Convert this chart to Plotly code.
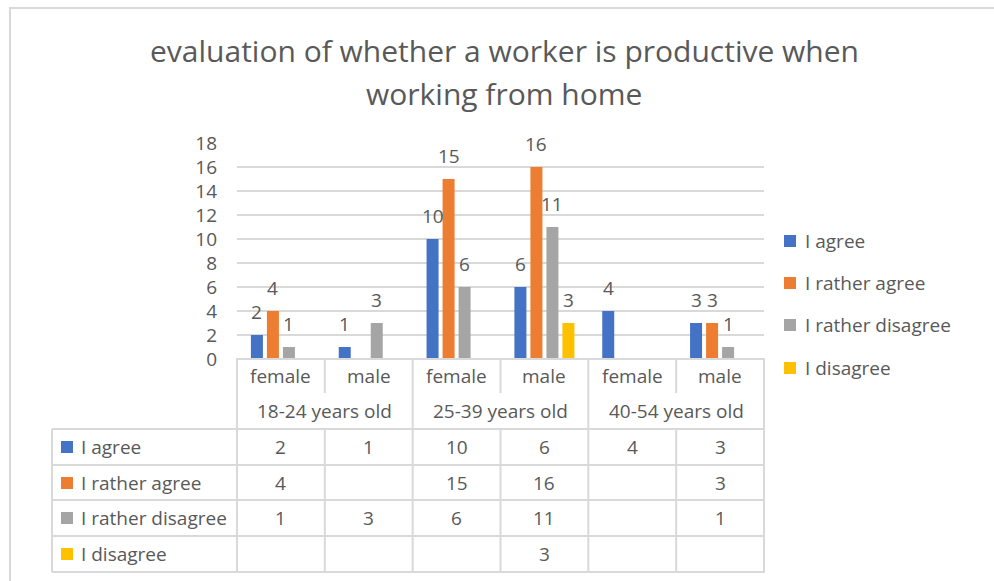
import plotly.graph_objects as go

# ---------------- data ----------------
ages = ["18-24 years old", "25-39 years old", "40-54 years old"]
genders = ["female", "male"]
series_names = ["I agree", "I rather agree", "I rather disagree", "I disagree"]
i_agree = [2, 1, 10, 6, 4, 3]
i_rather_agree = [4, None, 15, 16, None, 3]
i_rather_disagree = [1, 3, 6, 11, None, 1]
i_disagree = [None, None, None, 3, None, None]
y_ticks = [0, 2, 4, 6, 8, 10, 12, 14, 16, 18]
title_lines = ["evaluation of whether a worker is productive when", "working from home"]

# ---------------- style ----------------
colors = ["#4472C4", "#ED7D31", "#A5A5A5", "#FFC000"]
TXT = "#595959"
LINE = "#D9D9D9"
FONT = "Open Sans"
FS = 19
W, H = 994, 581
L, R, T, B = 237, 764, 143, 359  # plot area in pixels
BARGAP, GROUPGAP = 0.271, 0.25

def px(X):
    return (X - L) / (R - L)

def py(Y):
    return (B - Y) / (B - T)

series = [i_agree, i_rather_agree, i_rather_disagree, i_disagree]
keys = [f"{g} {a}" for a in ages for g in genders]
gender_of_key = [g for a in ages for g in genders]
n_cat = len(keys)
n_ser = len(series)

fig = go.Figure()
for name, vals, col in zip(series_names, series, colors):
    fig.add_trace(go.Bar(x=keys, y=vals, name=name, marker_color=col,
                         marker_line_width=0, showlegend=False))

annotations = []
shapes = []

def txt(**kw):
    kw.setdefault("showarrow", False)
    kw.setdefault("xanchor", "center")
    kw.setdefault("yanchor", "middle")
    kw.setdefault("font", dict(family=FONT, size=FS, color=TXT))
    annotations.append(kw)

# data labels above bars
slot_px = (R - L) / n_cat * (1 - BARGAP) / n_ser
for j, vals in enumerate(series):
    for i, v in enumerate(vals):
        if v is None:
            continue
        txt(x=keys[i], y=v, xref="x", yref="y", text=str(v),
            xshift=(j - (n_ser - 1) / 2) * slot_px, yanchor="bottom", yshift=8)

# title
for Y, line in zip([50, 93], title_lines):
    txt(x=px(504), y=py(Y), xref="paper", yref="paper", text=line,
        font=dict(family=FONT, size=30, color=TXT))

# table: gender row
for i, k in enumerate(keys):
    txt(x=k, y=py(376), xref="x", yref="paper", text=gender_of_key[i])
# table: age row
for a_i, a in enumerate(ages):
    txt(x=(2 * a_i + 1) / n_cat, y=py(411), xref="paper", yref="paper", text=a)
# table: data rows
row_y = [447, 483, 518, 554]
for j, (name, vals, col) in enumerate(zip(series_names, series, colors)):
    Y = row_y[j]
    shapes.append(dict(type="rect", xref="paper", yref="paper",
                       x0=px(61), x1=px(73), y0=py(Y + 6), y1=py(Y - 6),
                       fillcolor=col, line_width=0))
    txt(x=px(79), y=py(Y), xref="paper", yref="paper", text=name, xanchor="left")
    for i, v in enumerate(vals):
        if v is None:
            continue
        txt(x=keys[i], y=py(Y), xref="x", yref="paper", text=str(v))

# legend (right)
leg_y = [241, 283, 325, 368]
for Y, name, col in zip(leg_y, series_names, colors):
    shapes.append(dict(type="rect", xref="paper", yref="paper",
                       x0=px(784), x1=px(796), y0=py(Y + 6), y1=py(Y - 6),
                       fillcolor=col, line_width=0))
    txt(x=px(803), y=py(Y), xref="paper", yref="paper", text=name, xanchor="left")

# table lines
def hline(Y, X0, X1):
    shapes.append(dict(type="line", xref="paper", yref="paper", x0=px(X0), x1=px(X1),
                       y0=py(Y), y1=py(Y), line=dict(color=LINE, width=2)))

def vline(X, Y0, Y1):
    shapes.append(dict(type="line", xref="paper", yref="paper", x0=px(X), x1=px(X),
                       y0=py(Y0), y1=py(Y1), line=dict(color=LINE, width=2)))

hline(359, 236, 765)
for Y in [429, 465, 500, 536, 572]:
    hline(Y, 52, 765)
vline(52, 429, 572)
for k in range(0, n_cat + 1, 2):
    X = L + (R - L) * k / n_cat
    vline(X, 359, 572)
for k in range(1, n_cat, 2):
    X = L + (R - L) * k / n_cat
    vline(X, 359, 393)
    vline(X, 429, 572)

# chart border
shapes.append(dict(type="rect", xref="paper", yref="paper", x0=px(10), x1=px(1010),
                   y0=py(600), y1=py(8), line=dict(color=LINE, width=2),
                   fillcolor="rgba(0,0,0,0)"))

fig.update_layout(
    width=W, height=H,
    margin=dict(l=L, r=W - R, t=T, b=H - B, pad=0),
    paper_bgcolor="white", plot_bgcolor="white",
    barmode="group", bargap=BARGAP, bargroupgap=GROUPGAP,
    showlegend=False,
    font=dict(family=FONT, color=TXT),
    xaxis=dict(showticklabels=False, showgrid=False, zeroline=False, showline=False,
               ticks=""),
    yaxis=dict(range=[0, 18], tickvals=y_ticks, showgrid=True, gridcolor=LINE, gridwidth=1.5,
               zeroline=False, showline=False, ticks="", ticklabelstandoff=19,
               tickfont=dict(family=FONT, size=FS, color=TXT)),
    annotations=annotations,
    shapes=shapes,
)

fig.write_html("out.html", config={"displayModeBar": False},
               post_script="document.body.style.margin='0';document.body.style.padding='0';")
